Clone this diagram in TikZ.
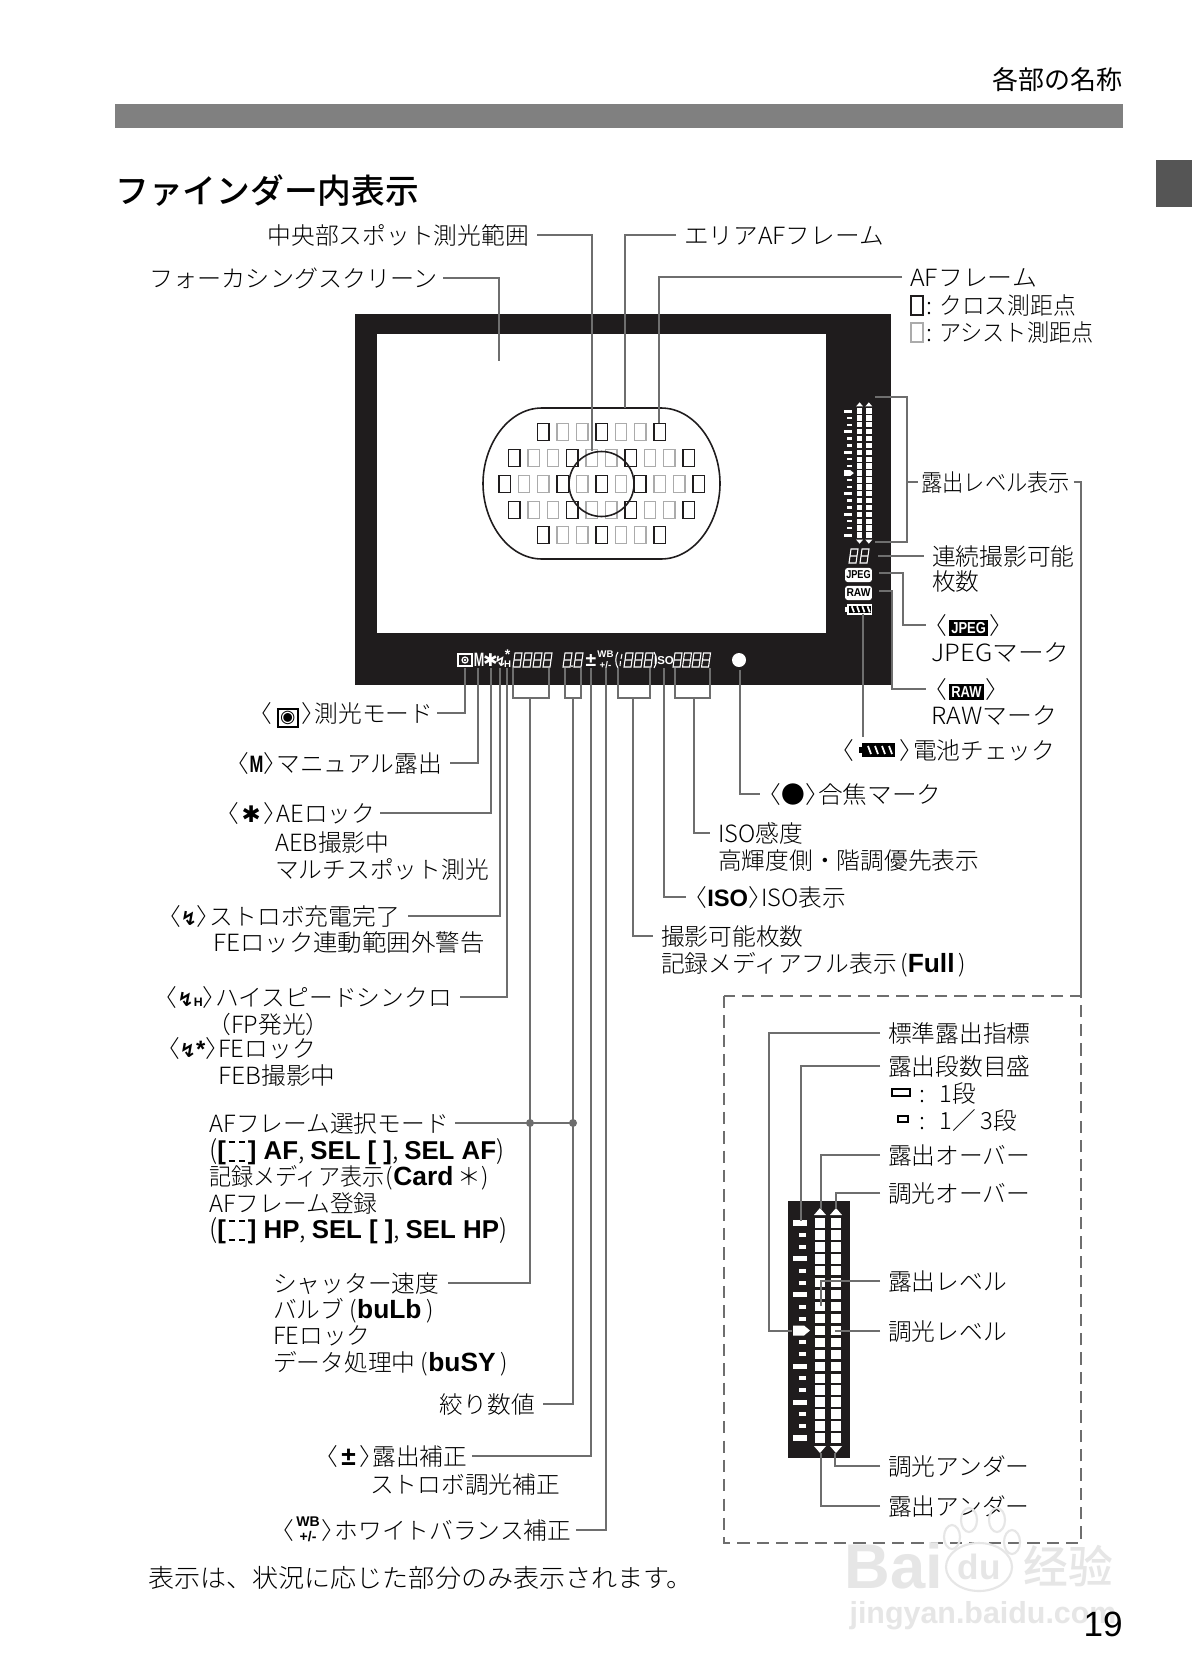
\documentclass[tikz,border=0pt]{standalone}
\usepackage{fontspec}
\setmainfont{Noto Sans CJK JP Light}
\newfontfamily\headfont{Noto Sans CJK JP Medium}
\newfontfamily\plainfont{Noto Sans CJK JP}
\newfontfamily\latfont{Liberation Sans}
\newfontfamily\symfont{DejaVu Sans}

\definecolor{leadgray}{HTML}{6E6E6E}
\definecolor{bargray}{HTML}{808080}
\definecolor{tabgray}{HTML}{555555}
\definecolor{assistgray}{HTML}{ABABAB}
\definecolor{inkblack}{HTML}{1F1C1D}
\definecolor{markgray}{HTML}{E6E6E6}

% brackets with the outer half of their cell removed
\newcommand{\lab}{\hspace{-0.45em}〈}
\newcommand{\rab}{〉\hspace{-0.45em}}
\newcommand{\fit}[2]{\scalebox{#1}[1]{#2}}
\newcommand{\lbold}[1]{{\latfont\bfseries #1}}
\newcommand{\bigb}[1]{{\fontsize{15}{16}\selectfont\lbold{#1}}}
\newcommand{\mtricon}{\hspace{2.5pt}{\fboxsep=0.8pt\fboxrule=1.1pt\fbox{\symfont\fontsize{10}{10}\selectfont ◉}}\hspace{1.5pt}}
\newcommand{\mansym}{\scalebox{0.7}[1]{\lbold{M}}}
\newcommand{\starsym}{\hspace{1.5pt}{\symfont\fontsize{13}{13}\selectfont ✱}\hspace{1.5pt}}
\newcommand{\flashsym}{{\symfont\bfseries\fontsize{11}{11}\selectfont ↯}}
\newcommand{\wbsym}{\hspace{1pt}\raisebox{-1pt}{\lbold{\fontsize{8}{7}\selectfont\shortstack[c]{WB\\[-0.5pt]+/-}}}\hspace{1pt}}
\newcommand{\inkbadge}[1]{\hspace{1pt}\raisebox{0.5pt}{\fboxsep=1.3pt\colorbox{black}{\textcolor{white}{\lbold{\fontsize{9}{9}\selectfont\scalebox{0.82}[1]{#1}}}}}\hspace{1pt}}
\newcommand{\frameicon}{\lbold{[}\kern1.5pt\rlap{\raisebox{9.5pt}{\rule{3.5pt}{1pt}\kern2.5pt\rule{3.5pt}{1pt}}}\raisebox{-1.5pt}{\rule{3.5pt}{1pt}\kern2.5pt\rule{3.5pt}{1pt}}\kern1.5pt\lbold{]}}

\tikzset{
  lbl/.style={anchor=west, inner xsep=4.5pt, inner ysep=0pt, text height=12.5pt, text depth=1.8pt,
    font=\fontsize{13.5}{16}\selectfont},
  leader/.style={draw=leadgray, line width=1pt},
  afcross/.style={draw=inkblack, line width=0.8pt},
  afassist/.style={draw=assistgray, line width=0.8pt},
  stripico/.style={text=white, inner sep=0pt},
  markbox/.style={fill=white, text=black, rounded corners=1.5pt, inner sep=0pt,
    minimum width=15.3pt, minimum height=8pt},
  pics/eight/.style={code={
    \draw[white, line width=0.6pt] (2,0) -- (9,0) -- (7,14) -- (0,14) -- cycle (1,7) -- (8,7);
  }},
  pics/batt/.style 2 args={code={
    \fill[#1] (0,4) rectangle (3,10);
    \fill[#1] (3,0) rectangle (36,14);
    \fill[black] (5,2) rectangle (34,12);
    \foreach \s in {9,16,23,30} \draw[#2, line width=1pt] (\s,3) -- (\s+3,11);
  }},
  % one level scale, origin at the first tick
  pics/levelscale/.style={code={
    \foreach \i in {0,3,6,12,15,18} \fill[white] (0,\i*11.94-2.6) rectangle (14,\i*11.94+2.6);
    \foreach \i in {1,2,4,5,7,8,10,11,13,14,16,17} \fill[white] (6,\i*11.94-2) rectangle (13,\i*11.94+2);
    \fill[white] (0,102.5) -- (11,102.5) -- (17,107.5) -- (11,112.5) -- (0,112.5) -- cycle;
    \foreach \i in {0,...,18} {
      \fill[white] (22,\i*11.94-4.7) rectangle (32,\i*11.94+4.7);
      \fill[white] (38,\i*11.94-4.7) rectangle (48,\i*11.94+4.7);
    }
    \foreach \c in {27,43} {
      \fill[white] (\c-6,-8) -- (\c+6,-8) -- (\c,-15) -- cycle;
      \fill[white] (\c-6,223) -- (\c+6,223) -- (\c,230) -- cycle;
    }
  }},
}

\begin{document}
\begin{tikzpicture}[x=0.02cm, y=-0.02cm]
    \useasboundingbox (0,0) rectangle (1192,1680);
    \fill[white] (0,0) rectangle (1192,1680);

    % Page head
    \fill[bargray] (115,104) rectangle (1123,128);
    \fill[tabgray] (1156,160) rectangle (1192,207);
    \node[anchor=east, inner sep=0pt, font=\plainfont\fontsize{14.8}{18}\selectfont] (head) at (1123,80) {各部の名称};
    \node[anchor=west, inner sep=0pt, font=\headfont\fontsize{19.2}{22}\selectfont] (title) at (115,191) {ファインダー内表示};

    % Viewfinder
    \fill[inkblack] (355,314) rectangle (891,685);
    \fill[white] (377,334) rectangle (826,633);
    \draw[line width=0.9pt, draw=inkblack] (542,408) -- (661,408) .. controls (695,408) and (720,445) .. (720,483.5)
        .. controls (720,522) and (695,559) .. (661,559) -- (542,559) .. controls (508,559) and (483,522) .. (483,483.5)
        .. controls (483,445) and (508,408) .. (542,408) -- cycle;

    % AF points
    \foreach \y in {432,535} \foreach \i in {-2,-1,1,2}
        \draw[afassist] (601.5+\i*19.4-5.7,\y-8.5) rectangle ++(11.4,17);
    \foreach \y in {458,510} \foreach \i in {-3.5,-2.5,-0.5,0.5,2.5,3.5}
        \draw[afassist] (601.5+\i*19.4-5.7,\y-8.5) rectangle ++(11.4,17);
    \foreach \i in {-4,-3,-1,1,3,4}
        \draw[afassist] (601.5+\i*19.4-5.7,475.5) rectangle ++(11.4,17);
    \foreach \y in {432,535} \foreach \i in {-3,0,3}
        \draw[afcross] (601.5+\i*19.4-5.7,\y-8.5) rectangle ++(11.4,17);
    \foreach \y in {458,510} \foreach \i in {-4.5,-1.5,1.5,4.5}
        \draw[afcross] (601.5+\i*19.4-5.7,\y-8.5) rectangle ++(11.4,17);
    \foreach \i in {-5,-2,0,2,5}
        \draw[afcross] (601.5+\i*19.4-5.7,475.5) rectangle ++(11.4,17);
    % spot circle
    \draw[line width=0.9pt, draw=inkblack] (601.5,484) circle (32.5);

    % Side display
    \pic[scale=0.577] at (844,411) {levelscale};
    \pic at (849,549) {eight};
    \pic at (860,549) {eight};
    \node[markbox, font=\latfont\bfseries\fontsize{6.5}{7}\selectfont] (jpegmark) at (858.5,575) {\scalebox{0.8}[1]{JPEG}};
    \node[markbox, font=\latfont\bfseries\fontsize{6.5}{7}\selectfont] (rawmark) at (858.5,593) {\scalebox{0.9}[1]{RAW}};
    \pic[scale=0.75] at (845,604) {batt={white}{white}};

    % Bottom display
    \draw[white, line width=0.9pt] (458,654) rectangle (472,666);
    \draw[white, line width=0.7pt] (465,660) circle (3);
    \fill[white] (465,660) circle (1.3);
    \node[stripico, font=\latfont\bfseries\fontsize{11}{11}\selectfont] (stripM) at (479,660) {\scalebox{0.65}[1]{M}};
    \node[stripico, font=\symfont\fontsize{10}{10}\selectfont] (stripstar) at (490.5,660) {✱};
    \node[stripico, font=\symfont\bfseries\fontsize{8}{8}\selectfont] (stripflash) at (500.5,661) {↯};
    \node[stripico, font=\latfont\bfseries\fontsize{8}{8}\selectfont] (stripfstar) at (507.5,655) {*};
    \node[stripico, font=\latfont\bfseries\fontsize{5.5}{6}\selectfont] (striphigh) at (507.5,664) {H};
    \foreach \x in {513,523,533,543, 563,574, 624,634,644, 673,682.5,692,701.5}
        \pic at (\x,653) {eight};
    \fill[white] (572,666) circle (1);
    \node[stripico, font=\latfont\bfseries\fontsize{11}{11}\selectfont] (stripcomp) at (591,660) {±};
    \node[stripico, font=\latfont\bfseries\fontsize{5.5}{6}\selectfont] (stripwb) at (605.5,660) {\shortstack[c]{WB\\[-0.5pt]+/-}};
    \draw[white, line width=0.6pt] (618,652) .. controls (615,656) and (615,664) .. (618,668);
    \draw[white, line width=0.6pt] (622,654) -- (621,659) (620.5,661) -- (620,666);
    \draw[white, line width=0.6pt] (654,652) .. controls (657,656) and (657,664) .. (654,668);
    \node[stripico, font=\latfont\bfseries\fontsize{6.5}{7}\selectfont] (stripiso) at (664,661) {ISO};
    \fill[white] (739,660) circle (7);

    % Pins on the display
    \coordinate (pinspot) at (592,451);
    \coordinate (pinarea) at (625,408);
    \coordinate (pinaf) at (659,423);
    \coordinate (pinscreen) at (499,361);
    \foreach \n/\x in {pinmeter/465,pinman/478,pinstar/491,pinflash/500,pinhigh/507,shotL/513,shotR/549,
        avL/565,avR/581,pincomp/591,pinwb/606,cardL/618,cardR/650,pinicon/664,isoL/675,isoR/710}
        \coordinate (\n) at (\x,668);
    \coordinate (shotM) at (530,698);
    \coordinate (avM) at (573,698);
    \coordinate (cardM) at (633,698);
    \coordinate (isoM) at (694,698);
    \coordinate (pinfocus) at (740,670);
    \coordinate (scaletop) at (875,397);
    \coordinate (scalebot) at (875,542);
    \coordinate (scalemid) at (907,482);
    \coordinate (pinmax) at (878,556);
    \coordinate (pinjpeg) at (879,573);
    \coordinate (pinraw) at (879,591);
    \coordinate (pinbatt) at (863,614);
    \coordinate (dashcorner) at (1081,996);

    % Top labels
    \node[lbl, anchor=east] (spot) at (537,235) {中央部スポット測光範囲};
    \node[lbl, anchor=east, inner xsep=3pt] (screen) at (443,278) {\fit{1.015}{フォーカシングスクリーン}};
    \node[lbl] (area) at (676,235) {\fit{1.04}{エリアAFフレーム}};
    \node[lbl] (afframe) at (902,277) {\fit{1.05}{AFフレーム}};
    \draw[afcross] (911,296) rectangle (923,315);
    \draw[afassist] (911,323) rectangle (923,342);
    \node[lbl] (afcrosstxt) at (918,305) {:\hspace{0.3em}\fit{0.96}{クロス測距点}};
    \node[lbl] (afassisttxt) at (918,332) {:\hspace{0.3em}\fit{0.935}{アシスト測距点}};
    \draw[leader] (spot.east) -| (pinspot);
    \draw[leader] (screen.east) -| (pinscreen);
    \draw[leader] (area.west) -| (pinarea);
    \draw[leader] (afframe.west) -| (pinaf);

    % Right labels
    \node[lbl, inner xsep=2pt] (level) at (917.5,482) {\fit{0.895}{露出レベル表示}};
    \draw[leader] (scaletop) -- ++(32,0) |- (scalebot);
    \draw[leader] (scalemid) -- (level.west);
    \draw[leader] (level.east) -| (dashcorner);
    \node[lbl] (maxburst) at (924,556) {連続撮影可能};
    \node[lbl] (maxburstb) at (924,581) {枚数};
    \draw[leader] (pinmax) -- (maxburst.west);
    \node[lbl] (jpeg) at (926,625) {\lab\inkbadge{JPEG}\rab};
    \node[lbl] (jpegb) at (923,652) {\fit{1.085}{JPEGマーク}};
    \draw[leader] (pinjpeg) -- ++(24,0) |- (jpeg.west);
    \node[lbl] (raw) at (926,689) {\lab\inkbadge{RAW}\rab};
    \node[lbl] (rawb) at (923,715) {\fit{1.05}{RAWマーク}};
    \draw[leader] (pinraw) -- ++(13,0) |- (raw.west);
    \node[lbl] (batt) at (833,750) {\lab\hspace{26pt}\rab 電池チェック};
    \pic[scale=1] at (859,743) {batt={black}{white}};
    \draw[leader] (pinbatt) -- (batt.north -| pinbatt);

    % Bottom right labels
    \node[lbl] (focus) at (760,794) {\lab●\rab \fit{1.04}{合焦マーク}};
    \draw[leader] (pinfocus) |- (focus.west);
    \node[lbl] (isospeed) at (710,833) {ISO感度};
    \node[lbl] (isospeedb) at (710,860) {高輝度側・階調優先表示};
    \draw[leader] (isoL) -- ++(0,30) -| (isoR);
    \draw[leader] (isoM) |- (isospeed.west);
    \node[lbl] (isoicon) at (686,897) {\lab\lbold{ISO}\rab ISO表示};
    \draw[leader] (pinicon) |- (isoicon.west);
    \node[lbl] (shots) at (653,936) {撮影可能枚数};
    \node[lbl] (shotsb) at (653,963) {記録メディアフル表示\hspace{2pt}(\bigb{Full}\hspace{2pt})};
    \draw[leader] (cardL) -- ++(0,30) -| (cardR);
    \draw[leader] (cardM) |- (shots.west);

    % Left labels
    \node[lbl, anchor=east, inner xsep=2pt] (meter) at (437,713) {\lab\mtricon\rab 測光モード};
    \draw[leader] (meter.east) -| (pinmeter);
    \node[lbl, anchor=east] (manual) at (450,763) {\lab\mansym\rab マニュアル露出};
    \draw[leader] (manual.east) -| (pinman);
    \node[lbl, anchor=east, inner xsep=2.5pt] (aelock) at (380,813) {\lab\starsym\rab AEロック};
    \node[lbl] (aeb) at (267,842) {AEB撮影中};
    \node[lbl] (multispot) at (267,869) {マルチスポット測光};
    \draw[leader] (aelock.east) -| (pinstar);
    \node[lbl, anchor=east] (ready) at (408,916) {\lab\flashsym\rab ストロボ充電完了};
    \node[lbl] (fewarn) at (205,942) {\fit{1.03}{FEロック連動範囲外警告}};
    \draw[leader] (ready.east) -| (pinflash);
    \node[lbl, anchor=east] (highsync) at (460,997) {\lab\flashsym\lbold{\fontsize{7}{7}\selectfont H}\rab ハイスピードシンクロ};
    \node[lbl] (fpflash) at (210,1024) {\hspace{-0.45em}（FP発光）};
    \node[lbl, anchor=east] (felock) at (324,1048) {\lab\flashsym\lbold{*}\rab FEロック};
    \node[lbl] (feb) at (210,1075) {\fit{1.04}{FEB撮影中}};
    \draw[leader] (highsync.east) -| (pinhigh);
    \node[lbl, inner xsep=3.5pt] (afmode) at (203,1123) {AFフレーム選択モード};
    \node[lbl] (afmodeb) at (201,1150) {{\fontsize{14.7}{16}\selectfont(\lbold{\frameicon\ AF}, \lbold{SEL [ ]}, \lbold{SEL AF})}};
    \node[lbl] (card) at (201,1176) {\fit{0.93}{記録メディア表示}\hspace{1pt}(\bigb{Card}\,＊)};
    \node[lbl] (afreg) at (201,1203) {AFフレーム登録};
    \node[lbl] (afregb) at (201,1229) {{\fontsize{14.7}{16}\selectfont(\lbold{\frameicon\ HP}, \lbold{SEL [ ]}, \lbold{SEL HP})}};
    \node[lbl] (shutter) at (265,1283) {シャッター速度};
    \node[lbl] (bulb) at (265,1309) {バルブ\hspace{3pt}(\bigb{buLb}\hspace{3pt})};
    \node[lbl] (shutterfe) at (265,1335) {FEロック};
    \node[lbl] (busy) at (265,1362) {データ処理中\hspace{3pt}(\bigb{buSY}\hspace{3pt})};
    \node[lbl, anchor=east] (aperture) at (543,1404) {絞り数値};
    \node[lbl, anchor=east, inner xsep=2.5pt] (comp) at (472,1456) {\lab\hspace{2pt}{\fontsize{15}{15}\selectfont\lbold{±}}\hspace{2pt}\rab 露出補正};
    \node[lbl] (flashcomp) at (362,1484) {ストロボ調光補正};
    \node[lbl, anchor=east, inner xsep=2.5pt] (wbcomp) at (576,1530) {\lab\wbsym\rab ホワイトバランス補正};
    \draw[leader] (shotL) -- ++(0,30) -| (shotR);
    \draw[leader] (avL) -- ++(0,30) -| (avR);
    \draw[leader] (shotM) |- (shutter.east);
    \draw[leader] (avM) |- (aperture.east);
    \draw[leader] (afmode.east) -- (afmode.east -| avM);
    \fill[leadgray] (afmode.east -| shotM) circle (4);
    \fill[leadgray] (afmode.east -| avM) circle (4);
    \draw[leader] (comp.east) -| (pincomp);
    \draw[leader] (wbcomp.east) -| (pinwb);

    % Detail of the level scale
    \draw[draw=leadgray, line width=1pt, dash pattern=on 7pt off 4pt] (724,996) rectangle (1081,1543);
    \fill[inkblack] (788,1201) rectangle (850,1458);
    \pic at (793,1223) {levelscale};
    \coordinate (pinindex) at (792,1331);
    \coordinate (pintick) at (801,1221);
    \coordinate (pinover) at (821,1209);
    \coordinate (pinfover) at (836,1209);
    \coordinate (pinmeterlvl) at (821,1306);
    \coordinate (pinflashlvl) at (835,1331);
    \coordinate (pinfunder) at (835,1453);
    \coordinate (pinunder) at (821,1453);
    \fill[inkblack] (827,1283) rectangle (830,1304);
    \node[lbl] (stdindex) at (880,1033) {標準露出指標};
    \node[lbl] (stops) at (880,1066) {露出段数目盛};
    \draw[line width=0.7pt] (892,1089) rectangle (910,1096);
    \draw[line width=0.7pt] (898,1116) rectangle (908,1122);
    \node[lbl] (onestop) at (911,1093) {:\hspace{0.6em}1段};
    \node[lbl] (thirdstop) at (911,1120) {:\hspace{0.6em}1／\hspace{0.2em}3段};
    \node[lbl] (over) at (880,1155) {露出オーバー};
    \node[lbl] (fover) at (880,1193) {調光オーバー};
    \node[lbl] (meterlvl) at (880,1281) {露出レベル};
    \node[lbl] (flashlvl) at (880,1331) {調光レベル};
    \node[lbl] (funder) at (880,1466) {調光アンダー};
    \node[lbl] (under) at (880,1506) {露出アンダー};
    \draw[leader] (stdindex.west) -- ++(-111,0) |- (pinindex);
    \draw[leader] (stops.west) -| (pintick);
    \draw[leader] (over.west) -| (pinover);
    \draw[leader] (fover.west) -| (pinfover);
    \draw[leader] (meterlvl.west) -| (pinmeterlvl);
    \draw[leader] (flashlvl.west) -- (pinflashlvl);
    \draw[leader] (funder.west) -| (pinfunder);
    \draw[leader] (under.west) -| (pinunder);

    % Foot
    \node[anchor=west, inner sep=0pt, font=\fontsize{14.4}{16}\selectfont] (note) at (148,1578) {\fit{1.03}{表示は、状況に応じた部分のみ表示されます。}};

    % Watermark
    \node[inner sep=0pt, text=markgray, font=\latfont\bfseries\fontsize{36}{36}\selectfont] (markbai) at (894,1566) {Bai};
    \node[inner sep=0pt, text=markgray, font=\latfont\bfseries\fontsize{20}{20}\selectfont] (markdu) at (979,1567) {du};
    \node[inner sep=0pt, text=markgray, font=\headfont\fontsize{25.5}{26}\selectfont] (markjing) at (1068,1566) {经验};
    \node[inner sep=0pt, text=markgray, font=\latfont\bfseries\fontsize{17.3}{20}\selectfont] (markurl) at (983,1616) {jingyan.baidu.com};
    \draw[markgray, line width=1.2pt] (979,1567) ellipse (33 and 24);
    \foreach \x/\y in {952/1537,969/1520,997/1520,1012/1542} \draw[markgray, line width=1.2pt] (\x,\y) ellipse (8 and 12);

    \node[anchor=east, inner sep=0pt, font=\latfont\fontsize{20}{20}\selectfont] (page) at (1123,1624) {19};
\end{tikzpicture}
\end{document}
